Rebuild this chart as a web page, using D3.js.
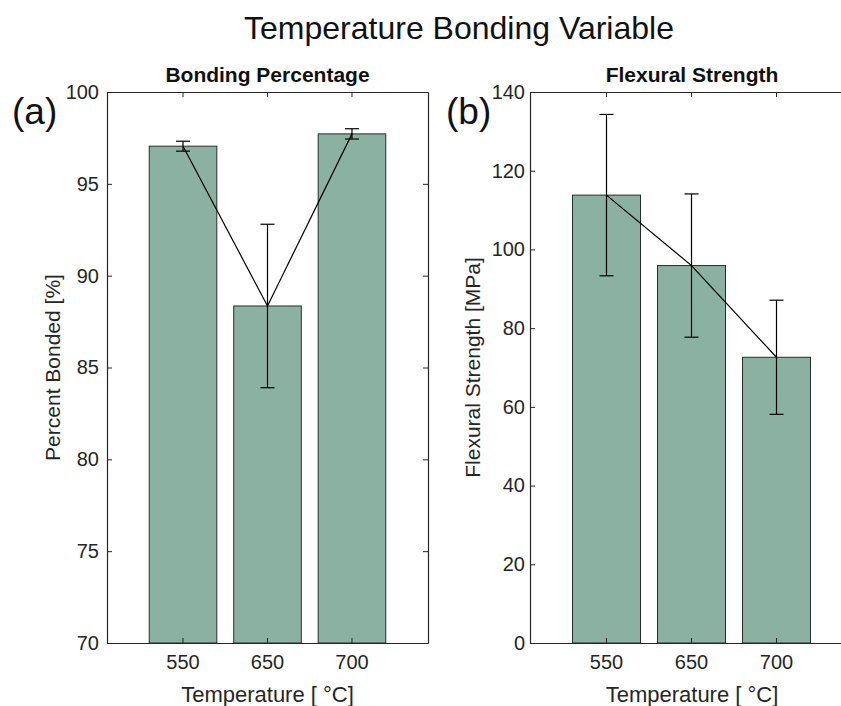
<!DOCTYPE html>
<html>
<head>
<meta charset="utf-8">
<script src="https://cdn.jsdelivr.net/npm/d3@7"></script>
<style>
  html, body { margin: 0; background: #fff; overflow: hidden; }
  #chart { width: 841px; height: 706px; overflow: hidden; }
  svg { display: block; overflow: hidden; }
  text { font-family: "Liberation Sans", Arial, Helvetica, sans-serif; }
</style>
</head>
<body>
<div id="chart"></div>
<script>
// Values
var temps = ["550", "650", "700"];
var bondMean = [97.05, 88.35, 97.72];
var bondErr = [0.27, 4.45, 0.28];
var flexMean = [113.8, 95.9, 72.6];
var flexErr = [20.5, 18.2, 14.5];
var bondTicks = [70, 75, 80, 85, 90, 95, 100];
var flexTicks = [0, 20, 40, 60, 80, 100, 120, 140];

var W = 841, H = 706;
var barFill = "#8ab1a1";
var ink = "#262626";

var svg = d3.select("#chart").append("svg")
	.attr("width", W)
	.attr("height", H);

// the original figure is cropped at its right edge
svg.append("defs").append("clipPath")
	.attr("id", "page")
	.append("rect")
	.attr("width", W)
	.attr("height", H);

var root = svg.append("g").attr("clip-path", "url(#page)");

root.append("rect").attr("width", W).attr("height", H).attr("fill", "#fff");

root.append("text")
	.attr("x", 459)
	.attr("y", 39)
	.attr("text-anchor", "middle")
	.style("font-size", "32px")
	.attr("fill", "#111")
	.text("Temperature Bonding Variable");

function drawPanel(cfg){
	var x = d3.scaleBand()
		.domain(temps)
		.range([cfg.left, cfg.right])
		.paddingInner(0.2)
		.paddingOuter(0.5);
	var y = d3.scaleLinear()
		.domain([cfg.ticks[0], cfg.ticks[cfg.ticks.length-1]])
		.range([cfg.bottom, cfg.top]);

	var g = root.append("g");

	// bars
	g.selectAll(".bar")
		.data(cfg.mean)
		.enter()
		.append("rect")
		.attr("class", "bar")
		.attr("x", function(d, i){ return x(temps[i]); })
		.attr("width", x.bandwidth())
		.attr("y", function(d){ return y(d); })
		.attr("height", function(d){ return y.range()[0] - y(d); })
		.attr("fill", barFill)
		.attr("stroke", "#2b2b2b")
		.attr("stroke-width", 1);

	// line through the means
	var line = d3.line()
		.x(function(d, i){ return x(temps[i]) + x.bandwidth()/2; })
		.y(function(d){ return y(d); });
	g.append("path")
		.datum(cfg.mean)
		.attr("d", line)
		.attr("fill", "none")
		.attr("stroke", "#000")
		.attr("stroke-width", 1.2);

	// error bars
	var eb = g.selectAll(".err")
		.data(cfg.mean)
		.enter()
		.append("g")
		.attr("class", "err")
		.attr("stroke", "#000")
		.attr("stroke-width", 1.2);
	eb.append("line")
		.attr("x1", function(d, i){ return x(temps[i]) + x.bandwidth()/2; })
		.attr("x2", function(d, i){ return x(temps[i]) + x.bandwidth()/2; })
		.attr("y1", function(d, i){ return y(d - cfg.err[i]); })
		.attr("y2", function(d, i){ return y(d + cfg.err[i]); });
	[-1, 1].forEach(function(s){
		eb.append("line")
			.attr("x1", function(d, i){ return x(temps[i]) + x.bandwidth()/2 - 7; })
			.attr("x2", function(d, i){ return x(temps[i]) + x.bandwidth()/2 + 7; })
			.attr("y1", function(d, i){ return y(d + s*cfg.err[i]); })
			.attr("y2", function(d, i){ return y(d + s*cfg.err[i]); });
	});

	// axes, MATLAB style: inward ticks on all four sides
	var axL = g.append("g")
		.attr("transform", "translate(" + cfg.left + ",0)")
		.call(d3.axisLeft(y).tickValues(cfg.ticks).tickSizeInner(-5).tickSizeOuter(0).tickPadding(cfg.tickPad));
	var axB = g.append("g")
		.attr("transform", "translate(0," + cfg.bottom + ")")
		.call(d3.axisBottom(x).tickSizeInner(-5).tickSizeOuter(0).tickPadding(12));
	var axT = g.append("g")
		.attr("transform", "translate(0," + cfg.top + ")")
		.call(d3.axisTop(x).tickSizeInner(-5).tickSizeOuter(0).tickFormat(""));
	var axR = g.append("g")
		.attr("transform", "translate(" + cfg.right + ",0)")
		.call(d3.axisRight(y).tickValues(cfg.ticks).tickSizeInner(-5).tickSizeOuter(0).tickFormat(""));

	[axL, axB, axT, axR].forEach(function(a){
		a.select(".domain").attr("stroke", ink).attr("stroke-width", 1.2);
		a.selectAll(".tick line").attr("stroke", ink).attr("stroke-width", 1);
		a.selectAll("text").attr("fill", ink).style("font-size", "20px");
	});
	axB.selectAll("text").attr("dy", "0.71em");

	// titles and labels
	var cx = (cfg.left + cfg.right)/2;
	if(cfg.titleX) cx = cfg.titleX;
	g.append("text")
		.attr("x", cx)
		.attr("y", 82)
		.attr("text-anchor", "middle")
		.style("font-size", "21px")
		.style("font-weight", "bold")
		.attr("fill", "#111")
		.text(cfg.title);
	g.append("text")
		.attr("x", cx)
		.attr("y", 702)
		.attr("text-anchor", "middle")
		.style("font-size", "22px")
		.attr("fill", ink)
		.text("Temperature [ \u00b0C]");
	g.append("text")
		.attr("transform", "translate(" + cfg.ylabX + "," + (cfg.top + cfg.bottom)/2 + ") rotate(-90)")
		.attr("text-anchor", "middle")
		.style("font-size", "21px")
		.attr("fill", ink)
		.text(cfg.ylabel);
	g.append("text")
		.attr("x", cfg.tagX)
		.attr("y", 124)
		.style("font-size", "37px")
		.attr("fill", "#111")
		.text(cfg.tag);
}

drawPanel({
	left: 107, right: 428, top: 92, bottom: 643,
	ticks: bondTicks, mean: bondMean, err: bondErr,
	title: "Bonding Percentage", ylabel: "Percent Bonded [%]",
	ylabX: 60, tag: "(a)", tagX: 12, tickPad: 8
});

drawPanel({
	left: 530, right: 853, top: 92, bottom: 643,
	ticks: flexTicks, mean: flexMean, err: flexErr,
	title: "Flexural Strength", ylabel: "Flexural Strength [MPa]",
	ylabX: 480, tag: "(b)", tagX: 446, titleX: 692, tickPad: 5
});
</script>
</body>
</html>
